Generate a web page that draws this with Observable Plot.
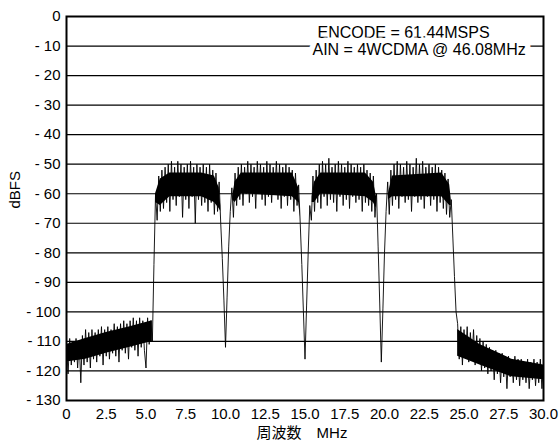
<!DOCTYPE html>
<html><head><meta charset="utf-8">
<script src="https://cdn.jsdelivr.net/npm/d3@7"></script>
<script src="https://cdn.jsdelivr.net/npm/@observablehq/plot@0.6"></script>
<style>body{margin:0;background:#fff;} #chart svg{display:block;}</style>
</head><body><div id="chart"></div>
<script>
const step = 0.1;
const floorLow = [ // 0.0 .. 5.4 MHz
 -111,-121,-109,-118,-110,-117,-109,-119,-110,-124,
 -108,-118,-106,-117,-107,-119,-106,-116,-107,-117,
 -106,-115,-105,-118,-106,-115,-105,-116,-106,-114,
 -104,-115,-105,-117,-104,-113,-103,-114,-104,-116,
 -103,-112,-102,-113,-103,-115,-102,-112,-103,-113,
 -119,-102,-111,-103,-110];
const carrier1 = [ // 5.5 .. 10.0 MHz
 -84,-60,-69,-54,-66,-52,-65,-51,-63,-50,
 -66,-49,-62,-51,-64,-49,-61,-50,-68,-51,
 -62,-50,-65,-49,-61,-51,-70,-50,-62,-51,
 -64,-50,-63,-51,-66,-50,-63,-52,-67,-53,
 -66,-56,-70,-82,-96,-112];
const carrier2 = [ // 10.1 .. 15.0 MHz
 -95,-78,-66,-58,-68,-53,-64,-51,-62,-50,
 -64,-51,-60,-49,-63,-50,-61,-51,-65,-49,
 -60,-50,-62,-51,-64,-49,-61,-50,-63,-51,
 -60,-49,-62,-50,-65,-51,-61,-50,-64,-51,
 -62,-52,-66,-53,-64,-57,-70,-84,-100,-116];
const carrier3 = [ // 15.1 .. 19.8 MHz
 -98,-80,-64,-69,-54,-66,-52,-63,-50,-65,
 -49,-61,-50,-64,-48,-62,-51,-63,-50,-66,
 -49,-61,-50,-64,-51,-62,-49,-65,-50,-61,
 -51,-63,-50,-62,-51,-66,-50,-63,-52,-64,
 -53,-66,-54,-68,-60,-78,-97,-117];
const carrier4 = [ // 19.9 .. 24.5 MHz
 -99,-80,-66,-56,-67,-52,-64,-50,-62,-49,
 -65,-50,-61,-51,-63,-49,-62,-50,-66,-51,
 -61,-48,-63,-50,-62,-49,-65,-51,-61,-50,
 -64,-51,-62,-50,-66,-51,-63,-52,-65,-53,
 -67,-55,-68,-62,-75,-88,-100];
const floorHigh = [ // 24.6 .. 30.0 MHz
 -104,-116,-105,-118,-106,-115,-105,-117,-107,-116,
 -106,-118,-108,-117,-109,-120,-110,-119,-111,-121,
 -112,-120,-113,-123,-113,-121,-114,-124,-114,-122,
 -115,-126,-115,-122,-116,-124,-115,-123,-116,-125,
 -116,-123,-117,-124,-116,-126,-117,-123,-116,-125,
 -117,-124,-116,-126,-118];
const segmentStarts = [0.0, 5.5, 10.1, 15.1, 19.9, 24.6];
const segmentValues = [floorLow, carrier1, carrier2, carrier3, carrier4, floorHigh];

// dense core of the noise band (MHz, upper dBFS, lower dBFS); null = no band
const bandF  = [0,1.2,2.5,4.0,5.4,5.45,5.6,5.9,6.5,8.5,9.3,9.6,9.7,10.0,10.45,10.6,11.0,14.2,14.6,14.7,15.0,15.45,15.6,16.0,18.8,19.3,19.5,19.8,20.25,20.5,23.6,24.1,24.2,24.4,24.6,26,28,30];
const bandHi = [-111,-109,-107,-105,-103,null,-60,-55,-53,-53,-54,-58,-64,null,-61,-56,-53,-53,-58,-66,null,-61,-56,-53,-53,-56,-61,null,-60,-54,-53,-57,-62,null,-106,-111,-116,-118];
const bandLo = [-117,-116,-114,-112,-110,null,-63,-64,-61,-61,-63,-65,-66,null,-62,-63,-60,-61,-63,-68,null,-63,-63,-60,-61,-63,-65,null,-62,-61,-61,-64,-64,null,-115,-118,-122,-123];

const xTicks = [0,2.5,5,7.5,10,12.5,15,17.5,20,22.5,25,27.5,30];
const xTickLabels = ["0","2.5","5.0","7.5","10.0","12.5","15.0","17.5","20.0","22.5","25.0","27.5","30.0"];
const yTicks = [0,-10,-20,-30,-40,-50,-60,-70,-80,-90,-100,-110,-120,-130];
const yTickLabels = ["0","- 10","- 20","- 30","- 40","- 50","- 60","- 70","- 80","- 90","- 100","- 110","- 120","- 130"];
const annotation = ["ENCODE = 61.44MSPS", "AIN = 4WCDMA @ 46.08MHz"];
const xTitle = "周波数　MHz";
const yTitle = "dBFS";

const trace = segmentStarts.flatMap((f0, s) => segmentValues[s].map((v, i) => ({f: +(f0 + i * step).toFixed(2), db: v})));
const band = bandF.map((f, i) => ({f, hi: bandHi[i], lo: bandLo[i]}));
const xMap = new Map(xTicks.map((t, i) => [t, xTickLabels[i]]));
const yMap = new Map(yTicks.map((t, i) => [t, yTickLabels[i]]));
const font = '"Liberation Sans", Arial, "Noto Sans CJK JP", sans-serif';

const chart = Plot.plot({
  width: 560, height: 448,
  marginLeft: 66, marginRight: 17, marginTop: 16, marginBottom: 48,
  style: {fontFamily: font, fontSize: "15px", color: "#000", background: "#fff"},
  x: {domain: [0, 30], ticks: xTicks, tickFormat: d => xMap.get(d), tickSize: 0, tickPadding: 8, label: null},
  y: {domain: [-130, 0], ticks: yTicks, tickFormat: d => yMap.get(d), tickSize: 0, tickPadding: 6, label: null},
  marks: [
    Plot.ruleY(yTicks.slice(1, -1), {stroke: "#000", strokeWidth: 1.2}),
    Plot.areaY(band, {x: "f", y1: "lo", y2: "hi", fill: "#000"}),
    Plot.line(trace, {x: "f", y: "db", stroke: "#000", strokeWidth: 0.9}),
    Plot.frame({stroke: "#000", strokeWidth: 2}),
    Plot.text([annotation[0]], {frameAnchor: "top-right", dx: -226, dy: 16, textAnchor: "start", lineAnchor: "middle", fontSize: 16, fill: "#000"}),
    Plot.text([annotation[1]], {frameAnchor: "top-right", dx: -231, dy: 33, textAnchor: "start", lineAnchor: "middle", fontSize: 16, fill: "#000", stroke: "#fff", strokeWidth: 11, paintOrder: "stroke"}),
    Plot.text([yTitle], {frameAnchor: "left", dx: -51, rotate: -90, fontSize: 15, fill: "#000"}),
    Plot.text([xTitle], {frameAnchor: "bottom", dx: -3, dy: 37, fontSize: 15, fill: "#000"})
  ]
});
document.getElementById("chart").appendChild(chart);
</script>
</body></html>
